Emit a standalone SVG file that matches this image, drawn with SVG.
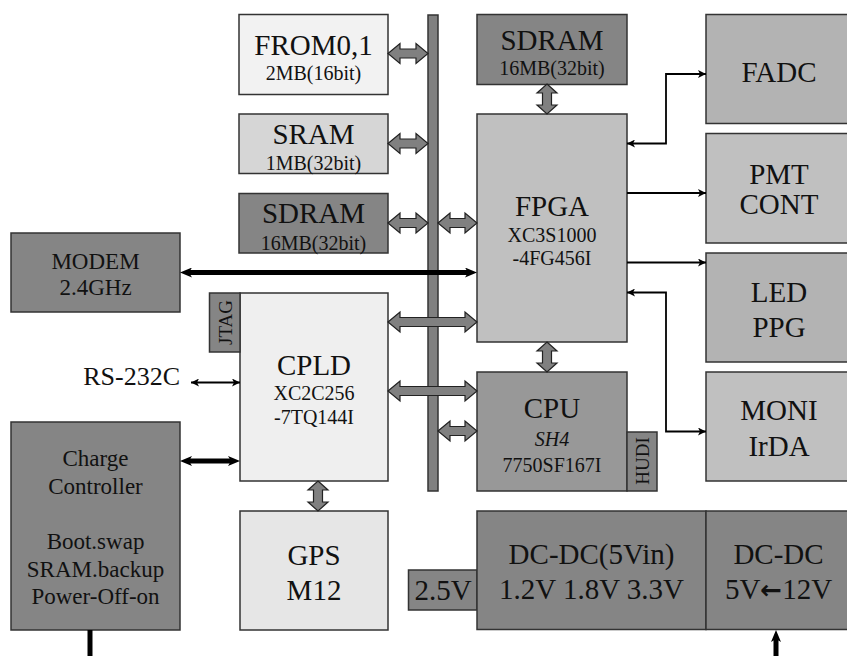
<svg xmlns="http://www.w3.org/2000/svg" width="847" height="656" viewBox="0 0 847 656">
<style>
.box{stroke:#333;stroke-width:1.5}
.t{font-family:"Liberation Serif","Times New Roman",serif;fill:#111;text-anchor:middle}
.big{font-size:29px}
.sub{font-size:20px}
.mid{font-size:23px}
.fat{fill:#808080;stroke:#222;stroke-width:1.2;stroke-linejoin:miter}
.thin{fill:none;stroke:#000;stroke-width:1.8}
.thick{fill:none;stroke:#000;stroke-width:5}
</style>
<defs>
<marker id="ah" viewBox="0 0 8 8" refX="8" refY="4" markerWidth="8" markerHeight="8" markerUnits="userSpaceOnUse" orient="auto-start-reverse">
<path d="M0,0 L8,4 L0,8 L2,4 Z" fill="#000"/>
</marker>
<marker id="ahk" viewBox="0 0 12 10" refX="3" refY="5" markerWidth="12" markerHeight="10" markerUnits="userSpaceOnUse" orient="auto-start-reverse">
<path d="M0,0 L12,5 L0,10 L3,5 Z" fill="#000"/>
</marker>
</defs>
<rect width="847" height="656" fill="#fff"/>

<g id="bus"><rect class="box" x="428" y="15" width="10" height="476" fill="#808080"/></g>

<g id="from"><rect class="box" x="239" y="14.5" width="149" height="80" fill="#f2f2f2"/>
<text class="t big" x="313.5" y="55">FROM0,1</text><text class="t sub" x="313.5" y="80">2MB(16bit)</text></g>
<g id="sram"><rect class="box" x="239" y="114" width="149" height="59.5" fill="#d6d6d6"/>
<text class="t big" x="313.5" y="143.5">SRAM</text><text class="t sub" x="313.5" y="170">1MB(32bit)</text></g>
<g id="sdram1"><rect class="box" x="239" y="193.5" width="149" height="59.5" fill="#858585"/>
<text class="t big" x="313.5" y="223">SDRAM</text><text class="t sub" x="313.5" y="249.5">16MB(32bit)</text></g>

<g id="sdram2"><rect class="box" x="477" y="14.5" width="150" height="70" fill="#858585"/>
<text class="t big" x="552" y="50">SDRAM</text><text class="t sub" x="552" y="75">16MB(32bit)</text></g>
<g id="fpga"><rect class="box" x="477" y="114" width="150" height="228" fill="#c0c0c0"/>
<text class="t big" x="552" y="216">FPGA</text><text class="t sub" x="552" y="241.5">XC3S1000</text><text class="t sub" x="552" y="265">-4FG456I</text></g>

<g id="fadc"><rect class="box" x="706" y="14.5" width="148" height="109" fill="#b3b3b3"/>
<text class="t big" x="779" y="82">FADC</text></g>
<g id="pmt"><rect class="box" x="706" y="133.5" width="148" height="109.5" fill="#c0c0c0"/>
<text class="t big" x="779" y="183.5">PMT</text><text class="t big" x="779" y="213.5">CONT</text></g>
<g id="led"><rect class="box" x="706" y="253" width="148" height="109" fill="#b3b3b3"/>
<text class="t big" x="779" y="302">LED</text><text class="t big" x="779" y="337">PPG</text></g>
<g id="moni"><rect class="box" x="706" y="372" width="148" height="109" fill="#c0c0c0"/>
<text class="t big" x="779" y="420">MONI</text><text class="t big" x="779" y="456">IrDA</text></g>

<g id="modem"><rect class="box" x="11" y="233" width="169" height="79" fill="#858585"/>
<text class="t mid" x="95.5" y="268.5">MODEM</text><text class="t mid" x="95.5" y="295">2.4GHz</text></g>

<g id="cpld"><rect class="box" x="240" y="293" width="148" height="188" fill="#efefef"/>
<text class="t big" x="314" y="375">CPLD</text><text class="t sub" x="314" y="400">XC2C256</text><text class="t sub" x="314" y="423.5">-7TQ144I</text></g>
<g id="jtag"><rect class="box" x="209.5" y="293" width="30.5" height="59" fill="#858585"/>
<text class="t" font-size="19" transform="translate(232,322.5) rotate(-90)">JTAG</text></g>

<g id="rs232"><text class="t" font-size="26" style="text-anchor:end" x="180" y="385">RS-232C</text></g>

<g id="charge"><rect class="box" x="11" y="422" width="169" height="208" fill="#858585"/>
<text class="t mid" x="95.5" y="466">Charge</text><text class="t mid" x="95.5" y="493.5">Controller</text>
<text class="t mid" x="95.5" y="549">Boot.swap</text><text class="t mid" x="95.5" y="576.5">SRAM.backup</text><text class="t mid" x="95.5" y="604">Power-Off-on</text></g>

<g id="cpu"><rect class="box" x="477" y="372" width="150" height="119" fill="#989898"/>
<text class="t big" x="552" y="417.5">CPU</text><text class="t sub" font-style="italic" x="552" y="446">SH4</text><text class="t sub" x="552" y="472">7750SF167I</text></g>
<g id="hudi"><rect class="box" x="627" y="432" width="30" height="59" fill="#858585"/>
<text class="t" font-size="19" transform="translate(649,461) rotate(-90)">HUDI</text></g>

<g id="gps"><rect class="box" x="240" y="511" width="148" height="119" fill="#e6e6e6"/>
<text class="t big" x="314" y="565">GPS</text><text class="t big" x="314" y="600">M12</text></g>

<g id="v25"><rect class="box" x="408.5" y="570" width="68.5" height="40" fill="#858585"/>
<text class="t big" x="443" y="600">2.5V</text></g>
<g id="dcdc1"><rect class="box" x="477" y="511" width="229" height="118.5" fill="#858585"/>
<text class="t big" x="591.5" y="563.5">DC-DC(5Vin)</text><text class="t big" x="591.5" y="599">1.2V 1.8V 3.3V</text></g>
<g id="dcdc2"><rect class="box" x="706" y="511" width="148" height="118.5" fill="#858585"/>
<text class="t big" x="778.5" y="563.5">DC-DC</text><text class="t big" x="778.5" y="599">5V<tspan font-family="'DejaVu Sans',sans-serif" font-weight="bold" font-size="26">←</tspan>12V</text></g>

<g id="connectors">
<path class="fat" d="M388,53.5 L400,43.5 L400,49 L416,49 L416,43.5 L428,53.5 L416,63.5 L416,58 L400,58 L400,63.5 Z"/>
<path class="fat" d="M388,143.5 L400,133.5 L400,139 L416,139 L416,133.5 L428,143.5 L416,153.5 L416,148 L400,148 L400,153.5 Z"/>
<path class="fat" d="M388,223 L400,213 L400,218.5 L416,218.5 L416,213 L428,223 L416,233 L416,227.5 L400,227.5 L400,233 Z"/>
<path class="fat" d="M438,223 L450,213 L450,218.5 L465,218.5 L465,213 L477,223 L465,233 L465,227.5 L450,227.5 L450,233 Z"/>
<path class="fat" d="M388,322 L400,312 L400,317.5 L465,317.5 L465,312 L477,322 L465,332 L465,326.5 L400,326.5 L400,332 Z"/>
<path class="fat" d="M388,391 L400,381 L400,386.5 L465,386.5 L465,381 L477,391 L465,401 L465,395.5 L400,395.5 L400,401 Z"/>
<path class="fat" d="M438,431 L450,421 L450,426.5 L465,426.5 L465,421 L477,431 L465,441 L465,435.5 L450,435.5 L450,441 Z"/>
<path class="fat" d="M547,84 L557,93 L551.5,93 L551.5,105 L557,105 L547,114 L537,105 L542.5,105 L542.5,93 L537,93 Z"/>
<path class="fat" d="M547,342 L557,351 L551.5,351 L551.5,363 L557,363 L547,372 L537,363 L542.5,363 L542.5,351 L537,351 Z"/>
<path class="fat" d="M318,481 L328,490 L322.5,490 L322.5,502 L328,502 L318,511 L308,502 L313.5,502 L313.5,490 L308,490 Z"/>

<polyline class="thin" points="627,143.5 666,143.5 666,74 706,74" marker-start="url(#ah)" marker-end="url(#ah)"/>
<line class="thin" x1="627" y1="193" x2="706" y2="193" marker-end="url(#ah)"/>
<line class="thin" x1="627" y1="262.5" x2="706" y2="262.5" marker-end="url(#ah)"/>
<polyline class="thin" points="627,292.5 666,292.5 666,431.5 706,431.5" marker-start="url(#ah)" marker-end="url(#ah)"/>
<line class="thin" x1="191" y1="382.5" x2="240" y2="382.5" marker-start="url(#ah)" marker-end="url(#ah)"/>

<line class="thick" x1="189" y1="272.5" x2="468" y2="272.5" marker-start="url(#ahk)" marker-end="url(#ahk)"/>
<line class="thick" x1="189" y1="461" x2="231" y2="461" marker-start="url(#ahk)" marker-end="url(#ahk)"/>
<line class="thick" x1="90" y1="630" x2="90" y2="656"/>
<line class="thick" x1="776" y1="656" x2="776" y2="639" marker-end="url(#ahk)"/>
</g>
</svg>
